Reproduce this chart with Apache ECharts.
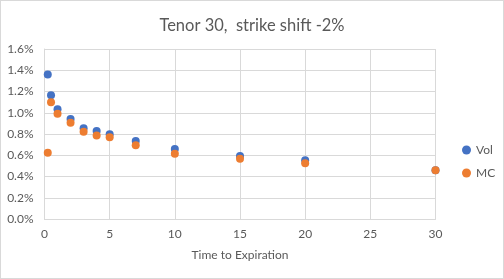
<!DOCTYPE html>
<html><head><meta charset="utf-8">
<script src="https://cdn.jsdelivr.net/npm/echarts@6/dist/echarts.min.js"></script>
<style>html,body{margin:0;padding:0;background:#fff}#c{width:502px;height:277px;border:1px solid #d9d9d9}</style>
</head><body><div id="c"></div>
<script>
const xs = [0.25, 0.5, 1, 2, 3, 4, 5, 7, 10, 15, 20, 30];
const volValues = [1.36, 1.164, 1.032, 0.941, 0.853, 0.828, 0.797, 0.734, 0.659, 0.593, 0.552, 0.46];
const mcValues = [0.624, 1.098, 0.991, 0.906, 0.822, 0.787, 0.769, 0.693, 0.615, 0.568, 0.524, 0.458];
const seriesNames = ['Vol', 'MC'];
const titleText = 'Tenor 30,  strike shift -2%';
const xName = 'Time to Expiration';

const font = 'Lato, "Open Sans", sans-serif';
const chart = echarts.init(document.getElementById('c'));
chart.setOption({
  animation: false,
  textStyle: {fontFamily: font},
  title: {text: titleText, left: 'center', top: 11, textStyle: {fontFamily: font, fontSize: 16.5, fontWeight: 'normal', color: '#595959'}},
  grid: {left: 43.5, right: 67.5, top: 48, bottom: 59},
  legend: {orient: 'vertical', left: 456, top: 138, itemWidth: 9, itemHeight: 9, itemGap: 11,
    data: [{name: seriesNames[0], icon: 'circle'}, {name: seriesNames[1], icon: 'circle'}],
    textStyle: {fontFamily: font, fontSize: 12, color: '#595959'}},
  xAxis: {type: 'value', min: 0, max: 30, interval: 5, name: xName, nameLocation: 'middle', nameGap: 30,
    nameTextStyle: {fontFamily: font, fontSize: 12, color: '#595959'},
    axisLine: {show: true, lineStyle: {color: '#d9d9d9'}}, axisTick: {show: false},
    axisLabel: {fontFamily: font, fontSize: 12, color: '#595959', margin: 9},
    splitLine: {show: true, lineStyle: {color: '#d9d9d9'}}},
  yAxis: {type: 'value', min: 0, max: 1.6, interval: 0.2,
    axisLine: {show: true, lineStyle: {color: '#d9d9d9'}}, axisTick: {show: false},
    axisLabel: {fontFamily: font, fontSize: 12, color: '#595959', margin: 11, formatter: v => v.toFixed(1) + '%'},
    splitLine: {show: true, lineStyle: {color: '#d9d9d9'}}},
  series: [
    {name: seriesNames[0], type: 'scatter', symbolSize: 8, itemStyle: {color: '#4472C4', opacity: 1}, data: xs.map((x, i) => [x, volValues[i]])},
    {name: seriesNames[1], type: 'scatter', symbolSize: 8, itemStyle: {color: '#ED7D31', opacity: 1}, data: xs.map((x, i) => [x, mcValues[i]])}
  ]
});
</script></body></html>
